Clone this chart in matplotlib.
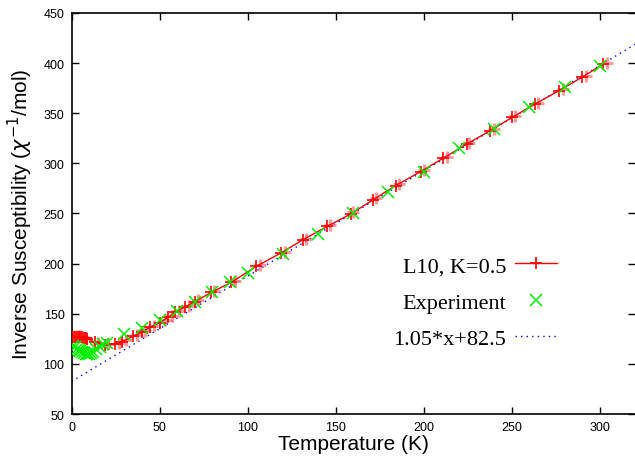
import numpy as np
import matplotlib
matplotlib.use("Agg")
import matplotlib.pyplot as plt

# L10, K=0.5 model curve (dark + markers on the line)
model_t = [1, 2, 3, 4, 5, 6, 7, 8, 9, 13.5, 19, 24.8, 28.6, 35, 40, 44.6, 50, 55,
           58.8, 64.4, 70, 79.5, 90.8, 105, 119, 131.2, 145.3, 158.6, 171.4, 184,
           198.2, 211, 224.6, 237.8, 250.4, 263.3, 276.9, 290, 302]
model_v = [127, 127, 127, 127, 127, 126.5, 126, 125.5, 125, 121.5, 119, 119.8, 122,
           127.5, 131.5, 136.5, 141, 146.5, 151.5, 156.5, 162, 171.4, 181.4, 197.3,
           210.6, 223.6, 237.2, 249.5, 263.8, 277.7, 291.7, 305, 319.3, 332.6, 346,
           359.2, 372.5, 385.9, 399]

# pale companion points of the model
pale_t = [2, 3.5, 5, 6.5, 8, 15, 21, 27, 31, 37, 42, 47, 53, 57, 61, 67, 72, 81,
          93, 107, 121, 133, 147, 160, 173, 186, 200, 213, 226, 240, 252, 265, 279,
          292, 304]
pale_v = [128, 128, 127.5, 127, 126, 121, 119.5, 121, 124, 129, 133, 138, 144, 148,
          153, 158, 164, 173, 183, 199, 212, 225, 238, 251, 265, 279, 293, 306, 320,
          334, 347, 360, 374, 387, 400]

# experiment
exp_t = [1, 2, 3, 4, 5, 6, 7, 8, 9, 10, 11, 12, 14, 16, 18, 20, 30, 40, 50, 60,
         70, 80, 90, 100, 120, 140, 160, 180, 200, 220, 240, 260, 280, 300]
exp_v = [118, 117, 115, 114, 113, 112, 111, 110, 110, 110, 111, 112, 115, 117, 120,
         121, 129.5, 136, 144, 152.5, 162, 171.6, 181.4, 190.6, 209.6, 229.5, 250.5,
         271.2, 291, 315, 334.3, 356, 375.9, 397.4]

fit_t = np.array([0, 320])
fit_v = 1.05 * fit_t + 82.5

plt.rcParams["font.family"] = ["Liberation Sans", "DejaVu Sans"]

fig = plt.figure(figsize=(6.35, 4.6), dpi=100)
ax = fig.add_axes([0.1126, 0.0978, 0.8874, 0.872])

ax.plot(pale_t, pale_v, "+", color="#ff7070", markersize=9, mew=2.2, alpha=0.7,
        zorder=2)
ax.plot(model_t, model_v, "-+", color="red", lw=1, markersize=9, mew=1.2,
        label="L10, K=0.5", zorder=3)
ax.plot(exp_t, exp_v, "x", color="#00f000", markersize=9, mew=1.1,
        label="Experiment", zorder=4)
ax.plot(fit_t, fit_v, color="blue", lw=1, dashes=(1, 3),
        label="1.05*x+82.5", zorder=1)

ax.set_xlim(0, 320)
ax.set_ylim(50, 450)
ax.set_xticks(np.arange(0, 301, 50))
ax.set_yticks(np.arange(50, 451, 50))
ax.tick_params(direction="in", top=True, right=True, length=5, width=1,
               labelsize=9, pad=5)
for s in ax.spines.values():
    s.set_linewidth(1.2)
ax.spines["right"].set_visible(False)

ax.set_xlabel("Temperature (K)", fontsize=15, labelpad=1)
ax.set_ylabel(r"Inverse Susceptibility ($\chi^{-1}$/mol)", fontsize=15,
              labelpad=6)

leg = ax.legend(loc="upper right", bbox_to_anchor=(0.862, 0.395), frameon=False,
                markerfirst=False, handlelength=1.9, handletextpad=0.4,
                labelspacing=0.72, borderpad=0, borderaxespad=0,
                prop={"family": "Liberation Serif", "size": 16})

fig.savefig("out.png", dpi=100)
